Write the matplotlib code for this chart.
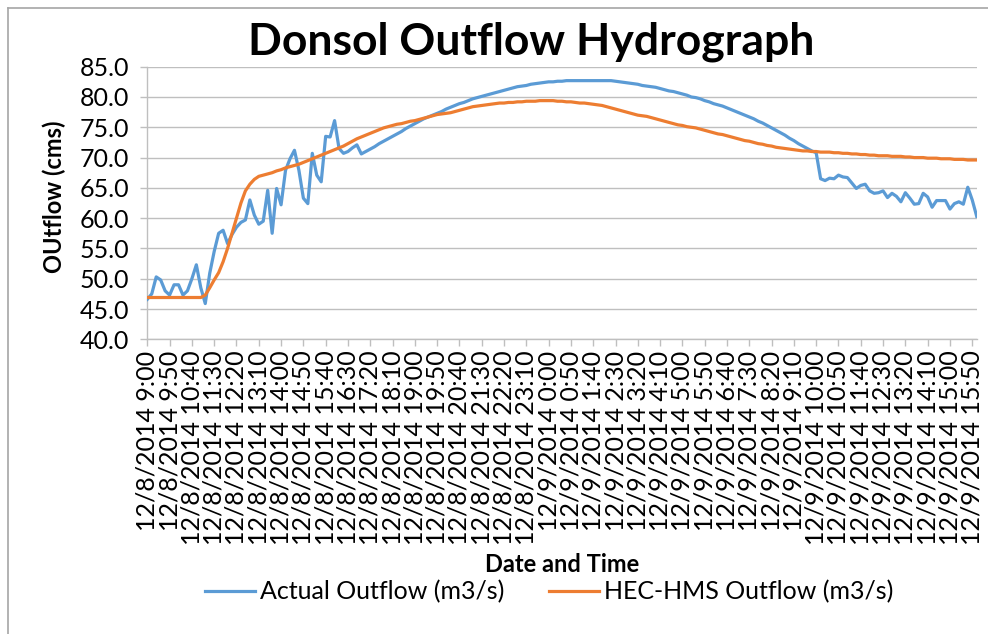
import numpy as np
import matplotlib
matplotlib.use("Agg")
import matplotlib.pyplot as plt
from matplotlib.lines import Line2D

plt.rcParams['font.family'] = ['Lato', 'DejaVu Sans']

# ---- data (10-minute steps, 12/8/2014 9:00 -> 12/9/2014 16:00) ----
actual_outflow = [
    46.6, 47.5, 50.3, 49.8, 48.0, 47.3, 49.0, 49.0, 47.3, 48.0,
    50.0, 52.3, 48.5, 45.9, 50.9, 54.5, 57.5, 58.0, 55.8, 57.3,
    58.5, 59.3, 59.7, 63.0, 60.5, 59.0, 59.5, 64.6, 57.5, 64.9,
    62.2, 67.9, 69.8, 71.2, 67.9, 63.3, 62.4, 70.7, 67.1, 66.0,
    73.5, 73.4, 76.1, 71.5, 70.7, 71.0, 71.6, 72.1, 70.6, 71.0,
    71.4, 71.8, 72.3, 72.7, 73.1, 73.5, 73.9, 74.3, 74.8, 75.2,
    75.6, 76.0, 76.4, 76.7, 77.0, 77.3, 77.6, 78.0, 78.3, 78.6,
    78.9, 79.1, 79.4, 79.7, 79.9, 80.1, 80.3, 80.5, 80.7, 80.9,
    81.1, 81.3, 81.5, 81.7, 81.8, 81.9, 82.1, 82.2, 82.3, 82.4,
    82.5, 82.5, 82.6, 82.6, 82.7, 82.7, 82.7, 82.7, 82.7, 82.7,
    82.7, 82.7, 82.7, 82.7, 82.7, 82.6, 82.5, 82.4, 82.3, 82.2,
    82.1, 81.9, 81.8, 81.7, 81.6, 81.4, 81.2, 81.0, 80.9, 80.7,
    80.5, 80.3, 80.0, 79.9, 79.7, 79.4, 79.2, 78.9, 78.7, 78.5,
    78.2, 77.9, 77.6, 77.3, 77.0, 76.7, 76.4, 76.0, 75.7, 75.3,
    74.9, 74.5, 74.1, 73.7, 73.2, 72.8, 72.3, 71.9, 71.5, 71.1,
    70.8, 66.5, 66.2, 66.6, 66.5, 67.1, 66.8, 66.7, 65.8, 64.9,
    65.4, 65.6, 64.5, 64.1, 64.2, 64.5, 63.4, 64.1, 63.6, 62.7,
    64.2, 63.3, 62.3, 62.4, 64.1, 63.5, 61.8, 62.9, 62.9, 62.9,
    61.5, 62.4, 62.7, 62.3, 65.1, 63.0, 60.3,
]

hms_outflow = [
    46.9, 46.9, 46.9, 46.9, 46.9, 46.9, 46.9, 46.9, 46.9, 46.9,
    46.9, 46.9, 46.9, 47.3, 48.5, 49.8, 51.0, 52.8, 55.0, 57.5,
    60.0, 62.5, 64.5, 65.6, 66.4, 66.9, 67.1, 67.3, 67.5, 67.8,
    68.0, 68.3, 68.5, 68.7, 68.9, 69.2, 69.5, 69.8, 70.1, 70.4,
    70.7, 71.0, 71.3, 71.6, 71.9, 72.3, 72.7, 73.1, 73.4, 73.7,
    74.0, 74.3, 74.6, 74.9, 75.1, 75.3, 75.5, 75.6, 75.8, 76.0,
    76.1, 76.3, 76.5, 76.7, 76.9, 77.1, 77.2, 77.3, 77.4, 77.6,
    77.8, 78.0, 78.2, 78.4, 78.5, 78.6, 78.7, 78.8, 78.9, 79.0,
    79.0, 79.1, 79.1, 79.2, 79.2, 79.3, 79.3, 79.3, 79.4, 79.4,
    79.4, 79.4, 79.3, 79.3, 79.2, 79.2, 79.1, 79.0, 79.0, 78.9,
    78.8, 78.7, 78.6, 78.4, 78.2, 78.0, 77.8, 77.6, 77.4, 77.2,
    77.0, 76.9, 76.8, 76.6, 76.4, 76.2, 76.0, 75.8, 75.6, 75.4,
    75.3, 75.1, 75.0, 74.9, 74.7, 74.5, 74.3, 74.1, 73.9, 73.8,
    73.6, 73.4, 73.2, 73.0, 72.8, 72.7, 72.5, 72.3, 72.2, 72.0,
    71.9, 71.7, 71.6, 71.5, 71.4, 71.3, 71.2, 71.1, 71.1, 71.0,
    71.0, 70.9, 70.9, 70.9, 70.8, 70.8, 70.7, 70.7, 70.6, 70.6,
    70.5, 70.5, 70.4, 70.4, 70.3, 70.3, 70.3, 70.2, 70.2, 70.2,
    70.1, 70.1, 70.0, 70.0, 70.0, 69.9, 69.9, 69.9, 69.8, 69.8,
    69.8, 69.7, 69.7, 69.7, 69.6, 69.6, 69.6,
]

tick_labels = [
    "12/8/2014 9:00", "12/8/2014 9:50", "12/8/2014 10:40", "12/8/2014 11:30",
    "12/8/2014 12:20", "12/8/2014 13:10", "12/8/2014 14:00", "12/8/2014 14:50",
    "12/8/2014 15:40", "12/8/2014 16:30", "12/8/2014 17:20", "12/8/2014 18:10",
    "12/8/2014 19:00", "12/8/2014 19:50", "12/8/2014 20:40", "12/8/2014 21:30",
    "12/8/2014 22:20", "12/8/2014 23:10", "12/9/2014 0:00", "12/9/2014 0:50",
    "12/9/2014 1:40", "12/9/2014 2:30", "12/9/2014 3:20", "12/9/2014 4:10",
    "12/9/2014 5:00", "12/9/2014 5:50", "12/9/2014 6:40", "12/9/2014 7:30",
    "12/9/2014 8:20", "12/9/2014 9:10", "12/9/2014 10:00", "12/9/2014 10:50",
    "12/9/2014 11:40", "12/9/2014 12:30", "12/9/2014 13:20", "12/9/2014 14:10",
    "12/9/2014 15:00", "12/9/2014 15:50",
]
label_step = 5

y_ticks = [40, 45, 50, 55, 60, 65, 70, 75, 80, 85]

# ---- figure ----
W, H = 988, 634
fig = plt.figure(figsize=(W / 100, H / 100), dpi=100)
fig.patch.set_facecolor('white')

def fx(px):
    return px / W

def fy(py):
    return 1 - py / H

left, right, top, bottom = 147.3, 976.7, 66.7, 339.3
ax = fig.add_axes([fx(left), fy(bottom), fx(right) - fx(left), fy(top) - fy(bottom)])

n = len(actual_outflow)
x = np.arange(n)
blue = '#5B9BD5'
orange = '#ED7D31'
grid_c = '#BFBFBF'

ax.plot(x, actual_outflow, color=blue, lw=2.3, solid_joinstyle='round', zorder=3)
ax.plot(x, hms_outflow, color=orange, lw=2.3, solid_joinstyle='round', zorder=3)

ax.set_xlim(0, n - 1)
ax.set_ylim(y_ticks[0], y_ticks[-1])
ax.set_yticks(y_ticks)
ax.set_yticklabels([f"{v:.1f}" for v in y_ticks])
ax.set_xticks(np.arange(len(tick_labels)) * label_step)
ax.set_xticklabels(tick_labels, rotation=90, ha='center', va='top')

ax.grid(axis='y', color=grid_c, lw=1.0, zorder=0)
ax.set_axisbelow(True)
for s in ['top', 'right']:
    ax.spines[s].set_visible(False)
for s in ['left', 'bottom']:
    ax.spines[s].set_color(grid_c)
    ax.spines[s].set_linewidth(1.0)

ax.tick_params(axis='y', length=5, color=grid_c, width=1, labelsize=18, pad=8, labelcolor='black')
ax.tick_params(axis='x', length=5, color=grid_c, width=1, labelsize=18, pad=3, labelcolor='black')

# title and axis labels
fig.text(fx(531), fy(42), 'Donsol Outflow Hydrograph', ha='center', va='center',
         fontsize=32, fontweight='bold', color='black')
fig.text(fx(54), fy(197), 'OUtflow (cms)', ha='center', va='center', rotation=90,
         fontsize=17, fontweight='bold', color='black')
fig.text(fx(562), fy(564), 'Date and Time', ha='center', va='center',
         fontsize=17, fontweight='bold', color='black')

handles = [Line2D([], [], color=blue, lw=2.3), Line2D([], [], color=orange, lw=2.3)]
fig.legend(handles, ['Actual Outflow (m3/s)', 'HEC-HMS Outflow (m3/s)'],
           loc='center', bbox_to_anchor=(fx(549), fy(592)), ncol=2, frameon=False,
           fontsize=18, handlelength=2.0, handletextpad=0.2, columnspacing=1.8)

# chart border (top and left edges visible)
fig.add_artist(Line2D([fx(8), 1.0], [fy(8), fy(8)], color='#A6A6A6', lw=1.2))
fig.add_artist(Line2D([fx(8), fx(8)], [fy(8), 0.0], color='#A6A6A6', lw=1.2))

fig.savefig('out.png', dpi=100, facecolor='white')
